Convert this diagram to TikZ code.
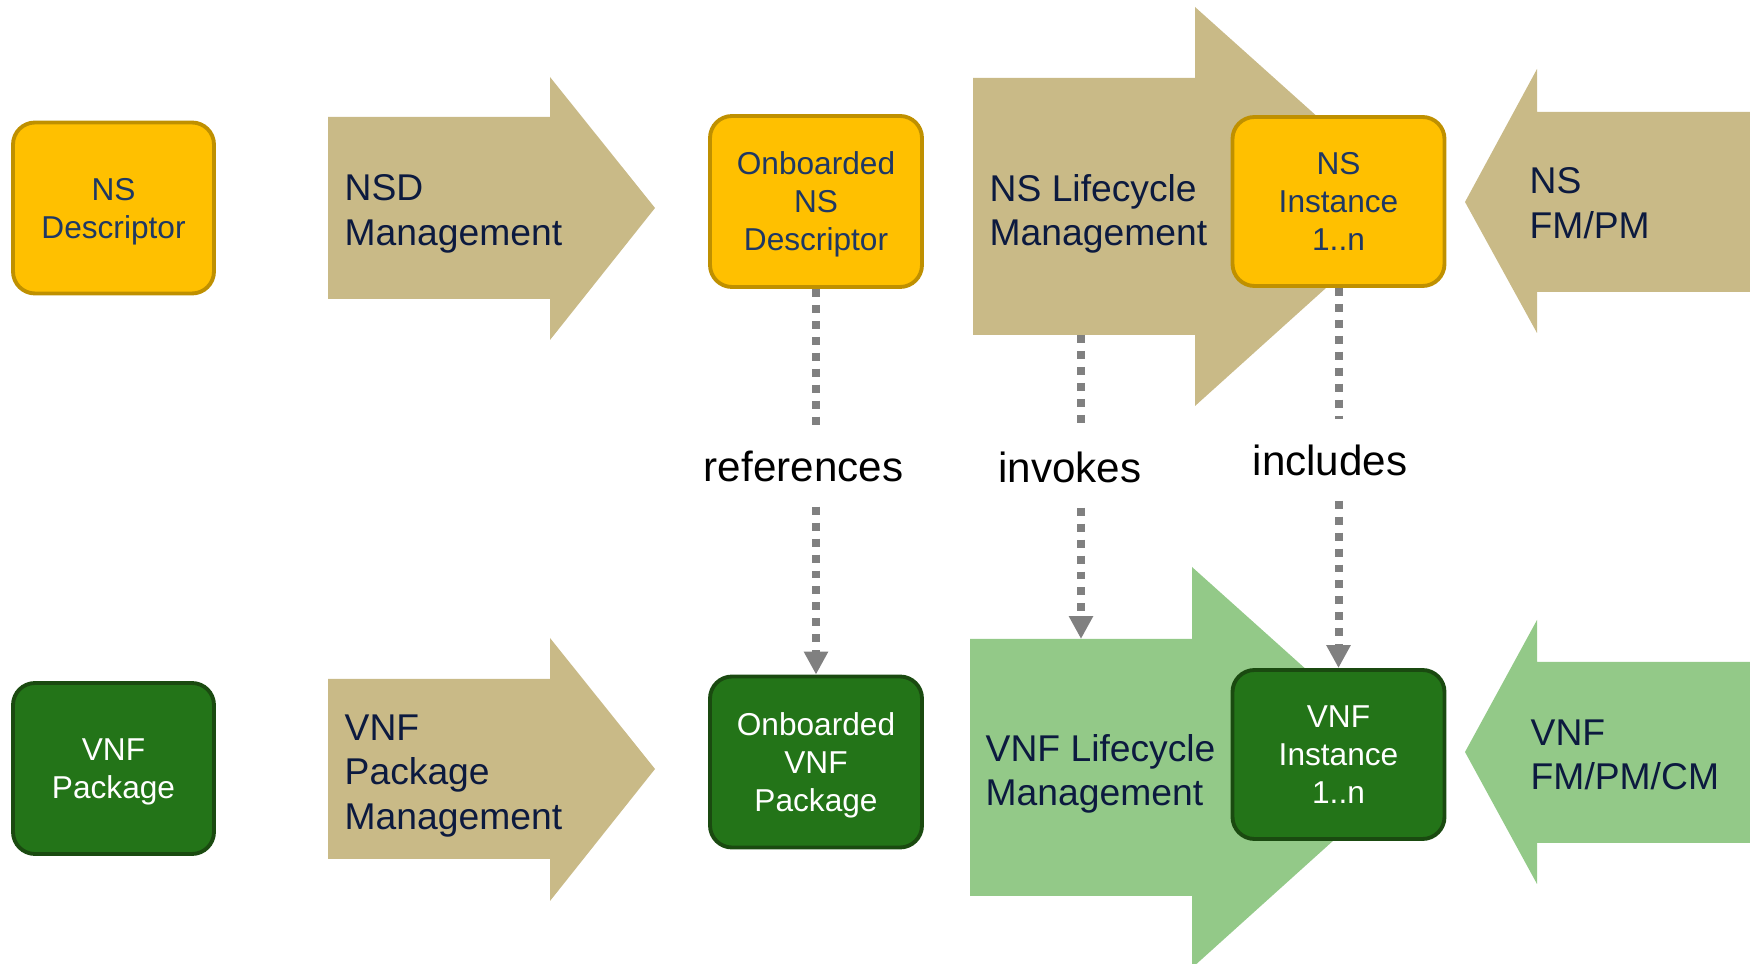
\documentclass[tikz,border=0pt]{standalone}
\usepackage{fontspec}
\setmainfont{Liberation Sans}
\usepackage{tikz}
\usetikzlibrary{arrows.meta}

\definecolor{nsfill}{HTML}{FFC000}
\definecolor{nsline}{HTML}{BF9000}
\definecolor{vnffill}{HTML}{237418}
\definecolor{vnfline}{HTML}{1A4A10}
\definecolor{khaki}{HTML}{C9BA87}
\definecolor{lightgreen}{HTML}{93C988}
\definecolor{boxtext}{HTML}{1F3864}
\definecolor{navy}{HTML}{0C1A3F}
\definecolor{dotgray}{HTML}{808080}

\begin{document}
\begin{tikzpicture}
[x=0.1mm, y=-0.1mm,
 >={Triangle[width=6.5pt,length=6.5pt]},
 box/.style={rectangle, rounded corners=2.2mm, line width=1.1pt,
   minimum width=21.2mm, minimum height=17.1mm, inner sep=0pt,
   align=center, font=\fontsize{9}{10.8}\selectfont, text depth=-1.1pt},
 ns box/.style={box, draw=nsline, fill=nsfill, text=boxtext},
 vnf box/.style={box, draw=vnfline, fill=vnffill, text=white},
 arrow text/.style={anchor=west, align=left, inner sep=0pt, text=navy,
   font=\fontsize{10.6}{12.7}\selectfont},
 link label/.style={minimum height=8mm, inner sep=0pt,
   font=\fontsize{12}{14}\selectfont},
 link/.style={draw=dotgray, line width=2.27pt, dash pattern=on 2.27pt off 2.27pt}]

  \useasboundingbox (0,0) rectangle (1750,964);

  % block arrows
  \fill[khaki] (328,117) -- (550,117) -- (550,77) -- (655,208)
    -- (550,340) -- (550,299) -- (328,299) -- cycle;
  \fill[khaki] (328,679) -- (550,679) -- (550,638) -- (655,769)
    -- (550,901) -- (550,859) -- (328,859) -- cycle;
  \fill[khaki] (973,78) -- (1195,78) -- (1195,7) -- (1417,206)
    -- (1195,406) -- (1195,335) -- (973,335) -- cycle;
  \fill[lightgreen] (970,639) -- (1192,639) -- (1192,567) -- (1415,767)
    -- (1192,968) -- (1192,896) -- (970,896) -- cycle;
  \fill[khaki] (1750,112) -- (1537,112) -- (1537,69) -- (1465,202)
    -- (1537,333) -- (1537,292) -- (1750,292) -- cycle;
  \fill[lightgreen] (1750,662) -- (1537,662) -- (1537,620) -- (1465,752)
    -- (1537,884) -- (1537,843) -- (1750,843) -- cycle;

  \node[arrow text] (nsdm) at (344,214) {NSD\\Management};
  \node[arrow text] (vnfpm) at (344,776) {VNF\\Package\\Management};
  \node[arrow text] (nslcm) at (989,214) {NS Lifecycle\\Management};
  \node[arrow text] (vnflcm) at (985,774) {VNF Lifecycle\\Management};
  \node[arrow text] (nsfm) at (1529,203) {NS\\FM/PM};
  \node[arrow text] (vnffm) at (1530,755) {VNF\\FM/PM/CM};

  \coordinate (nslcm-b) at (1081,335);
  \coordinate (vnflcm-t) at (1081,639);

  % descriptors and instances
  \node[ns box, minimum width=20.1mm] (nsd) at (113.5,208) {NS\\Descriptor};
  \node[ns box] (onsd) at (816,201.5) {Onboarded\\NS\\Descriptor};
  \node[ns box, minimum height=16.9mm] (nsi) at (1338.5,201.5) {NS\\Instance\\1..n};
  \node[vnf box, minimum width=20.1mm] (vnfp) at (113.5,768.5) {VNF\\Package};
  \node[vnf box] (onvnf) at (816,762) {Onboarded\\VNF\\Package};
  \node[vnf box, minimum height=16.9mm] (vnfi) at (1338.5,754.5) {VNF\\Instance\\1..n};

  % relations
  \node[link label] (refs) at (803.5,466) {references};
  \node[link label] (inv) at (1070,467) {invokes};
  \node[link label] (incl) at (1330,460) {includes};

  \draw[link] (onsd.south) -- (refs.north -| onsd.south);
  \draw[link,->] (refs.south -| onsd.south) -- (onvnf.north);
  \draw[link] (nslcm-b) -- (inv.north -| nslcm-b);
  \draw[link,->] (inv.south -| nslcm-b) -- (vnflcm-t);
  \draw[link] (nsi.south) -- (incl.north -| nsi.south);
  \draw[link,->] (incl.south -| nsi.south) -- (vnfi.north);

\end{tikzpicture}
\end{document}
